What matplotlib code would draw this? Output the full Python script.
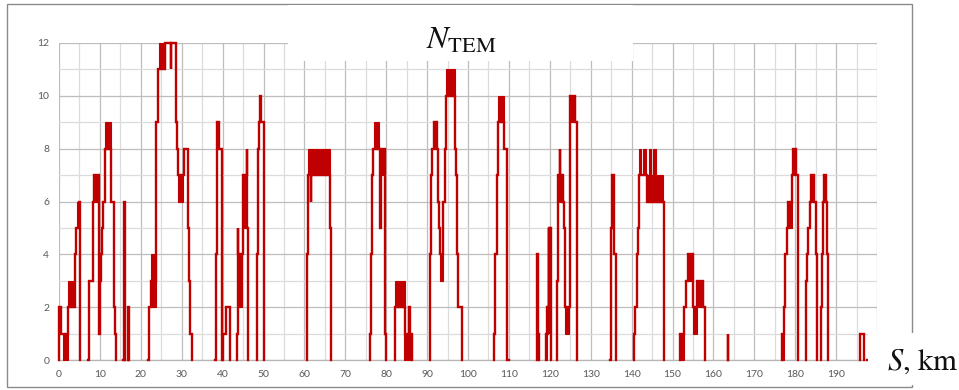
import numpy as np
import matplotlib
matplotlib.use("Agg")
import matplotlib.pyplot as plt
from matplotlib.patches import Rectangle

plt.rcParams["mathtext.fontset"] = "stix"

# Number of working traction motors along the route: (distance km, N) vertices per run;
# each N holds from its distance until the next vertex
run_a = [(0.0, 0), (0.05, 2), (0.5, 2), (0.55, 1), (2.1, 1), (2.2, 2), (3.75, 2), (3.8, 3),
         (3.9, 4), (4.1, 5), (4.85, 5), (4.9, 6), (5.05, 0)]
run_b = [(7.2, 0), (7.3, 2), (7.45, 3), (8.0, 3), (8.2, 4), (8.4, 6), (8.6, 7), (9.5, 7),
         (9.7, 1), (9.85, 1), (10.0, 3), (10.2, 4), (10.45, 5), (10.7, 6), (11.0, 6), (11.2, 8),
         (12.7, 8), (12.8, 6), (13.1, 6), (13.4, 3), (13.55, 2), (13.7, 1), (13.85, 0)]
run_c = [(15.75, 0), (15.8, 6), (16.05, 6), (16.1, 0)]
run_d = [(16.85, 0), (16.9, 2), (17.05, 2), (17.1, 0)]
run_e = [(21.8, 0), (21.95, 1), (22.1, 2), (22.4, 3), (23.6, 3), (23.8, 9), (24.1, 11),
         (25.9, 11), (25.95, 12), (27.2, 12), (27.3, 11), (27.45, 12), (28.4, 12), (28.6, 9),
         (28.8, 8), (29.0, 7), (30.4, 7), (30.55, 8), (31.5, 8), (31.6, 5), (31.9, 3), (32.1, 1),
         (32.4, 1), (32.6, 0)]
run_f = [(38.2, 0), (38.4, 4), (38.6, 8), (38.75, 9), (39.15, 9), (39.2, 8), (39.7, 8), (39.85, 0)]
run_g = [(40.1, 0), (40.2, 1), (40.7, 1), (40.8, 2), (41.6, 2), (41.7, 1), (41.8, 0)]
run_h = [(43.4, 0), (43.55, 1), (43.7, 5), (43.85, 4), (44.8, 4), (44.9, 7), (45.75, 7),
         (45.85, 8), (45.95, 5), (46.2, 0)]
run_i = [(48.3, 0), (48.45, 4), (48.7, 8), (48.85, 9), (49.05, 10), (49.4, 10), (49.45, 9),
         (49.85, 9), (50.05, 0)]
run_j = [(60.6, 0), (60.75, 4), (60.9, 6), (61.0, 7), (61.5, 7), (61.6, 6), (61.7, 7), (66.2, 7),
         (66.3, 5), (66.45, 1), (66.6, 0)]
run_k = [(75.95, 0), (76.1, 1), (76.2, 2), (76.35, 4), (76.6, 7), (76.75, 8), (78.3, 8),
         (78.45, 5), (78.6, 5), (78.75, 8), (79.6, 8), (79.65, 5), (79.8, 1), (80.0, 0)]
run_l = [(82.05, 0), (82.2, 2), (84.45, 2), (84.5, 1), (85.5, 1), (85.55, 2), (85.65, 2),
         (85.7, 1), (86.25, 1), (86.3, 0)]
run_m = [(90.6, 0), (90.7, 1), (90.8, 4), (91.0, 7), (91.15, 8), (91.65, 8), (91.7, 9),
         (92.25, 9), (92.3, 8), (92.6, 6), (92.85, 5), (93.05, 4), (93.9, 4), (94.0, 6), (94.3, 8),
         (94.5, 10), (96.7, 10), (96.8, 8), (97.1, 7), (97.3, 4), (97.45, 2), (98.3, 2), (98.5, 0)]
run_n = [(106.35, 0), (106.45, 1), (106.55, 3), (106.7, 4), (107.0, 7), (107.3, 9), (108.8, 9),
         (108.85, 8), (109.1, 8), (109.45, 0), (110.1, 0)]
run_o = [(116.75, 0), (116.8, 4), (116.9, 4), (117.0, 1), (117.2, 1), (117.25, 0)]
run_p = [(119.05, 0), (119.1, 1), (119.35, 1), (119.4, 2), (119.6, 2), (119.7, 5), (119.8, 1),
         (119.9, 5), (120.0, 2), (120.05, 5), (120.15, 5), (120.3, 0)]
run_q = [(121.7, 0), (121.8, 3), (121.95, 6), (122.1, 7), (122.4, 7), (122.45, 8), (122.55, 8),
         (122.6, 7), (123.25, 7), (123.3, 6), (123.45, 5), (123.6, 2), (124.75, 2), (124.85, 9),
         (124.95, 10), (126.2, 10), (126.25, 9), (126.6, 0)]
run_r = [(134.8, 0), (134.85, 4), (135.0, 5), (135.2, 7), (135.5, 7), (135.6, 4), (136.0, 4),
         (136.1, 0)]
run_s = [(140.5, 0), (140.6, 1), (140.8, 2), (141.2, 4), (141.5, 5), (141.9, 7), (143.7, 7),
         (143.75, 6), (147.7, 6), (148.0, 0)]
run_t = [(151.8, 0), (151.85, 1), (152.8, 1), (152.9, 2), (153.3, 3), (153.85, 4), (155.0, 4),
         (155.05, 2), (156.0, 2), (156.05, 3), (157.5, 3), (157.55, 2), (157.8, 2), (157.95, 0)]
run_u = [(163.45, 0), (163.5, 1), (163.6, 1), (163.65, 0)]
run_v = [(176.7, 0), (176.75, 1), (177.2, 1), (177.3, 2), (177.45, 3), (177.55, 4), (177.95, 4),
         (178.05, 5), (178.3, 5), (178.35, 6), (179.15, 6), (179.3, 7), (179.5, 8), (180.2, 8),
         (180.25, 7), (180.65, 0)]
run_w = [(182.6, 0), (182.7, 3), (182.85, 4), (183.25, 5), (183.55, 6), (183.95, 7), (184.55, 7),
         (184.65, 6), (185.0, 4), (185.1, 4), (185.45, 0)]
run_x = [(186.2, 0), (186.3, 2), (186.5, 4), (186.7, 6), (187.0, 7), (187.5, 7), (187.55, 6),
         (187.7, 4), (187.9, 0)]
run_y = [(195.8, 0), (195.85, 1), (196.7, 1), (196.8, 0)]
run_z = [(197.55, 0), (197.7, 0)]

runs = [run_a, run_b, run_c, run_d, run_e, run_f, run_g, run_h, run_i, run_j, run_k, run_l,
        run_m, run_n, run_o, run_p, run_q, run_r, run_s, run_t, run_u, run_v, run_w, run_x,
        run_y, run_z]

# Stretches where N flickers rapidly between two neighbouring values
flicker_start = [1.05, 2.3, 4.3, 8.6, 11.25, 22.4, 24.45, 29.0, 43.85, 44.9, 61.0, 61.7,
                 76.9, 78.8, 82.2, 84.4, 91.7, 93.05, 94.6, 107.3, 119.1, 119.35, 122.2,
                 123.7, 124.95, 141.9, 142.85, 144.2, 145.2, 143.7, 151.85, 153.85, 155.0,
                 156.0, 176.75, 178.35, 179.55, 184.0, 187.05]
flicker_end = [2.1, 3.75, 4.9, 9.5, 12.7, 23.6, 25.9, 30.4, 44.8, 45.75, 61.5, 66.2,
               78.3, 79.6, 84.5, 86.3, 92.25, 93.95, 96.7, 108.8, 119.35, 119.65, 123.3,
               124.75, 126.15, 142.4, 143.6, 144.7, 145.9, 147.7, 152.8, 155.0, 156.0,
               157.5, 177.2, 179.1, 180.15, 184.55, 187.5]
flicker_low = [0, 2, 5, 6, 8, 2, 11, 6, 2, 5, 7, 7,
               8, 7, 2, 0, 8, 3, 10, 9, 0, 1, 6,
               1, 9, 7, 7, 7, 7, 6, 0, 3, 1,
               2, 0, 5, 7, 6, 6]
flicker_high = [1, 3, 6, 7, 9, 4, 12, 7, 4, 7, 8, 8,
                9, 8, 3, 1, 9, 4, 11, 10, 1, 2, 7,
                2, 10, 8, 8, 8, 8, 7, 1, 4, 2,
                3, 1, 6, 8, 7, 7]

x_ticks = list(range(0, 201, 10))
y_ticks = list(range(0, 13, 2))

RED = "#C00000"

fig = plt.figure(figsize=(9.59, 3.90), dpi=100)
W, H = 959, 390
ax = fig.add_axes([59 / W, 1 - 360 / H, (877 - 59) / W, (360 - 43) / H])

ax.set_xlim(0, 200)
ax.set_ylim(0, 12)
ax.set_xticks(x_ticks)
ax.set_xticks(list(range(5, 200, 10)), minor=True)
ax.set_yticks(y_ticks)
ax.set_yticks(list(range(1, 12, 2)), minor=True)
ax.grid(which="major", color="#BDBDBD", lw=0.9, zorder=0)
ax.grid(which="minor", color="#DCDCDC", lw=0.9, zorder=0)
ax.set_axisbelow(True)
for side in ("top", "right", "left"):
    ax.spines[side].set_visible(False)
ax.spines["bottom"].set_color("#B5B5B5")
ax.spines["bottom"].set_linewidth(0.9)
ax.tick_params(which="both", length=0)
ax.tick_params(axis="x", pad=7, labelsize=7.5, labelcolor="#595959")
ax.tick_params(axis="y", pad=7, labelsize=7.5, labelcolor="#595959")
for lab in ax.get_xticklabels() + ax.get_yticklabels():
    lab.set_fontfamily("Lato")

# Flicker stretches drawn as solid blocks
lo = np.array(flicker_low, dtype=float)
hi = np.array(flicker_high, dtype=float)
st = np.array(flicker_start)
en = np.array(flicker_end)
ax.bar(st, hi - lo, width=en - st, bottom=lo, align="edge",
       color=RED, edgecolor=RED, linewidth=0.8, zorder=3, clip_on=False)

# Step trace, each run drawn separately
for run in runs:
    xs = [p[0] for p in run]
    ys = [p[1] for p in run]
    ax.plot(xs, ys, color=RED, lw=1.7, zorder=4, clip_on=False,
            drawstyle="steps-post", solid_joinstyle="miter")

# Outer chart frame
fig.add_artist(Rectangle((7 / W, 1 - 387 / H), (912 - 7) / W, (387 - 4) / H,
                         transform=fig.transFigure, fill=False,
                         edgecolor="#8A8A8A", lw=1.0, zorder=5))

# Caption panels
fig.add_artist(Rectangle((288 / W, 1 - 61 / H), (633 - 288) / W, (61 - 5) / H,
                         transform=fig.transFigure, facecolor="white",
                         edgecolor="none", zorder=6))
fig.add_artist(Rectangle((868 / W, 1 - 385 / H), (959 - 868) / W, (385 - 333) / H,
                         transform=fig.transFigure, facecolor="white",
                         edgecolor="none", zorder=6))

fig.text(461 / W, 1 - 49 / H, r"$N_{\mathrm{TEM}}$", ha="center", va="baseline",
         fontsize=23, color="#111111", zorder=7)
fig.text(887 / W, 1 - 370 / H, r"$S$, km", ha="left", va="baseline",
         fontsize=22, family="STIXGeneral", color="#111111", zorder=7)

fig.savefig("out.png", dpi=100)
